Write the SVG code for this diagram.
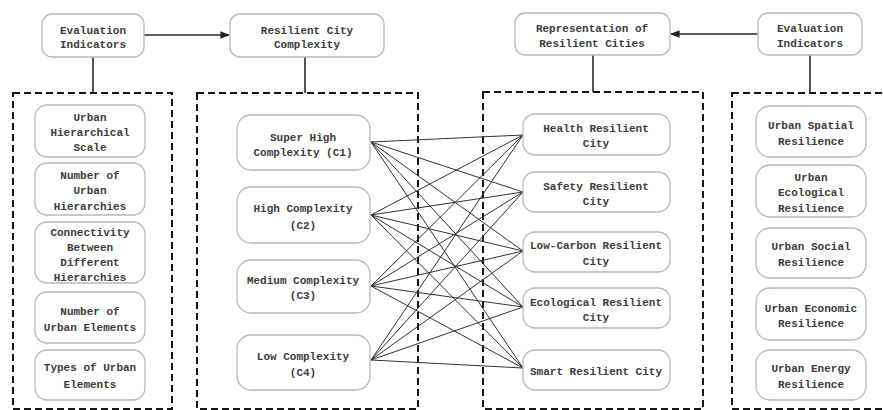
<svg xmlns="http://www.w3.org/2000/svg" width="883" height="410" viewBox="0 0 883 410">
  <style>
    .node { fill: #ffffff; stroke: #b8b8b8; stroke-width: 1.3; }
    .lbl { font-family: "Liberation Mono", "DejaVu Sans Mono", monospace; font-size: 11px; font-weight: bold; fill: #3c3c3c; text-anchor: middle; }
    .group { fill: none; stroke: #151515; stroke-width: 2; stroke-dasharray: 7 4; }
    .link { stroke: #2a2a2a; stroke-width: 1.6; fill: none; }
    .web { stroke: #333333; stroke-width: 1; fill: none; }
  </style>
  <defs>
    <marker id="arrow" viewBox="0 0 10 10" refX="9" refY="5" markerWidth="6" markerHeight="6" orient="auto-start-reverse">
      <path d="M0,1 L10,5 L0,9 z" fill="#222"/>
    </marker>
  </defs>
  <rect width="883" height="410" fill="#ffffff"/>

  <!-- dashed grouping frames -->
  <g id="frames">
    <rect class="group" x="13" y="93" width="159" height="316"/>
    <rect class="group" x="197" y="93" width="221" height="316"/>
    <rect class="group" x="483" y="92" width="220" height="317"/>
    <rect class="group" x="732" y="93" width="170" height="316"/>
  </g>

  <!-- connectors -->
  <g id="connectors">
    <line class="link" x1="144" y1="35" x2="229" y2="35" marker-end="url(#arrow)"/>
    <line class="link" x1="758" y1="34" x2="671" y2="34" marker-end="url(#arrow)"/>
    <line class="link" x1="93" y1="57" x2="93" y2="93"/>
    <line class="link" x1="305" y1="57" x2="305" y2="93"/>
    <line class="link" x1="593" y1="55" x2="593" y2="92"/>
    <line class="link" x1="810" y1="55" x2="810" y2="93"/>
    <!-- complexity levels to resilient city types -->
    <g class="web">
      <path d="M371,142 L523,135 M371,142 L523,192 M371,142 L523,251 M371,142 L523,307 M371,142 L523,368"/>
      <path d="M371,215 L523,135 M371,215 L523,192 M371,215 L523,251 M371,215 L523,307 M371,215 L523,368"/>
      <path d="M371,286 L523,135 M371,286 L523,192 M371,286 L523,251 M371,286 L523,307 M371,286 L523,368"/>
      <path d="M371,360 L523,135 M371,360 L523,192 M371,360 L523,251 M371,360 L523,307 M371,360 L523,368"/>
    </g>
  </g>

  <!-- top row -->
  <g id="eval-left">
    <rect class="node" x="42" y="14" width="102" height="43" rx="10"/>
    <text class="lbl" x="93" y="34">Evaluation</text>
    <text class="lbl" x="93" y="48">Indicators</text>
  </g>
  <g id="complexity">
    <rect class="node" x="230" y="14" width="154" height="43" rx="10"/>
    <text class="lbl" x="307" y="34">Resilient City</text>
    <text class="lbl" x="307" y="48">Complexity</text>
  </g>
  <g id="representation">
    <rect class="node" x="515" y="13" width="155" height="42" rx="10"/>
    <text class="lbl" x="592" y="32">Representation of</text>
    <text class="lbl" x="592" y="47">Resilient Cities</text>
  </g>
  <g id="eval-right">
    <rect class="node" x="758" y="13" width="104" height="42" rx="10"/>
    <text class="lbl" x="810" y="32">Evaluation</text>
    <text class="lbl" x="810" y="47">Indicators</text>
  </g>

  <!-- complexity indicators -->
  <g id="hier-scale">
    <rect class="node" x="35" y="105" width="110" height="52" rx="12"/>
    <text class="lbl" x="90" y="121">Urban</text>
    <text class="lbl" x="90" y="136">Hierarchical</text>
    <text class="lbl" x="90" y="151">Scale</text>
  </g>
  <g id="hier-count">
    <rect class="node" x="35" y="163" width="110" height="52" rx="12"/>
    <text class="lbl" x="90" y="179">Number of</text>
    <text class="lbl" x="90" y="194">Urban</text>
    <text class="lbl" x="90" y="210">Hierarchies</text>
  </g>
  <g id="hier-connect">
    <rect class="node" x="35" y="222" width="110" height="61" rx="12"/>
    <text class="lbl" x="90" y="236">Connectivity</text>
    <text class="lbl" x="90" y="251">Between</text>
    <text class="lbl" x="90" y="266">Different</text>
    <text class="lbl" x="90" y="281">Hierarchies</text>
  </g>
  <g id="element-count">
    <rect class="node" x="35" y="292" width="110" height="51" rx="12"/>
    <text class="lbl" x="90" y="315">Number of</text>
    <text class="lbl" x="90" y="331">Urban Elements</text>
  </g>
  <g id="element-types">
    <rect class="node" x="35" y="350" width="110" height="50" rx="12"/>
    <text class="lbl" x="90" y="371">Types of Urban</text>
    <text class="lbl" x="90" y="388">Elements</text>
  </g>

  <!-- complexity levels -->
  <g id="c1">
    <rect class="node" x="237" y="115" width="133" height="55" rx="14"/>
    <text class="lbl" x="303" y="141">Super High</text>
    <text class="lbl" x="303" y="156">Complexity (C1)</text>
  </g>
  <g id="c2">
    <rect class="node" x="237" y="187" width="133" height="56" rx="14"/>
    <text class="lbl" x="303" y="212">High Complexity</text>
    <text class="lbl" x="303" y="229">(C2)</text>
  </g>
  <g id="c3">
    <rect class="node" x="237" y="260" width="133" height="53" rx="14"/>
    <text class="lbl" x="303" y="284">Medium Complexity</text>
    <text class="lbl" x="303" y="299">(C3)</text>
  </g>
  <g id="c4">
    <rect class="node" x="237" y="335" width="133" height="55" rx="14"/>
    <text class="lbl" x="303" y="360">Low Complexity</text>
    <text class="lbl" x="303" y="376">(C4)</text>
  </g>

  <!-- resilient city types -->
  <g id="health">
    <rect class="node" x="523" y="114" width="147" height="41" rx="12"/>
    <text class="lbl" x="596" y="132">Health Resilient</text>
    <text class="lbl" x="596" y="147">City</text>
  </g>
  <g id="safety">
    <rect class="node" x="523" y="172" width="147" height="40" rx="12"/>
    <text class="lbl" x="596" y="190">Safety Resilient</text>
    <text class="lbl" x="596" y="205">City</text>
  </g>
  <g id="low-carbon">
    <rect class="node" x="523" y="232" width="147" height="40" rx="12"/>
    <text class="lbl" x="596" y="249">Low-Carbon Resilient</text>
    <text class="lbl" x="596" y="265">City</text>
  </g>
  <g id="ecological">
    <rect class="node" x="523" y="288" width="147" height="40" rx="12"/>
    <text class="lbl" x="596" y="306">Ecological Resilient</text>
    <text class="lbl" x="596" y="321">City</text>
  </g>
  <g id="smart">
    <rect class="node" x="523" y="350" width="147" height="40" rx="12"/>
    <text class="lbl" x="596" y="375">Smart Resilient City</text>
  </g>

  <!-- resilience indicators -->
  <g id="spatial">
    <rect class="node" x="756" y="106" width="110" height="51" rx="14"/>
    <text class="lbl" x="811" y="129">Urban Spatial</text>
    <text class="lbl" x="811" y="145">Resilience</text>
  </g>
  <g id="eco-res">
    <rect class="node" x="756" y="165" width="110" height="52" rx="14"/>
    <text class="lbl" x="811" y="181">Urban</text>
    <text class="lbl" x="811" y="196">Ecological</text>
    <text class="lbl" x="811" y="212">Resilience</text>
  </g>
  <g id="social">
    <rect class="node" x="756" y="228" width="110" height="50" rx="14"/>
    <text class="lbl" x="811" y="250">Urban Social</text>
    <text class="lbl" x="811" y="266">Resilience</text>
  </g>
  <g id="economic">
    <rect class="node" x="756" y="288" width="110" height="52" rx="14"/>
    <text class="lbl" x="811" y="312">Urban Economic</text>
    <text class="lbl" x="811" y="327">Resilience</text>
  </g>
  <g id="energy">
    <rect class="node" x="756" y="350" width="110" height="50" rx="14"/>
    <text class="lbl" x="811" y="372">Urban Energy</text>
    <text class="lbl" x="811" y="388">Resilience</text>
  </g>
</svg>
